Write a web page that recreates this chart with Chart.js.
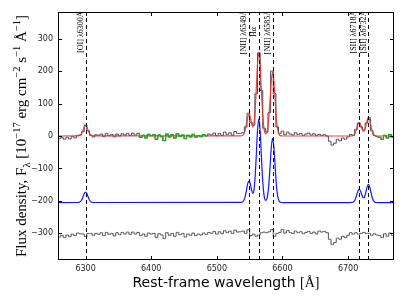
<!DOCTYPE html>
<html><head><meta charset="utf-8">
<script src="https://cdn.jsdelivr.net/npm/chart.js@4/dist/chart.umd.min.js"></script>
<style>html,body{margin:0;padding:0;background:#fff;}#wrap{width:403px;height:302px;}</style>
</head><body><div id="wrap"><canvas id="c" width="403" height="302"></canvas></div>
<script>
// Observed spectrum sampled on a regular wavelength grid (Å)
const WAVE_START = 6256, WAVE_STEP = 4;
const OBS_FLUX = [
  -6,-8,-5,-10,-4,-9,-2,-6,2,3,        // 6256-6292
  14,34,16,2,-3,4,2,6,-2,8,            // 6296-6332
  1,5,-3,6,0,7,3,8,2,9,                // 6336-6372
  3,8,-4,2,-6,5,1,4,-10,3,             // 6376-6412
  -2,-14,6,-3,4,-6,7,-1,3,-8,          // 6416-6452
  2,-3,5,-4,1,-2,4,0,6,3,              // 6456-6492
  9,1,8,2,12,5,10,3,14,8,              // 6496-6532
  8,10,28,70,42,34,130,256,140,24,     // 6536-6572
  12,72,200,130,28,8,15,4,12,6,        // 6576-6612
  3,10,5,8,2,6,9,3,7,1,                // 6616-6652
  5,2,4,0,-16,-28,-22,-10,-15,-6,      // 6656-6692
  -10,-3,5,2,20,40,28,18,40,56,        // 6696-6732
  16,2,-2,-4,-10,2,-6,4,-3,3           // 6736-6772
];
// Residuals (shown offset, as in the figure)
const RESID_FLUX = [
  -309,-311,-306,-313,-305,-310,-302,-307,-299,-301,
  -302,-310,-300,-301,-306,-300,-303,-298,-307,-297,
  -303,-300,-308,-298,-304,-297,-302,-296,-303,-296,
  -302,-297,-307,-302,-309,-299,-302,-300,-313,-301,
  -305,-316,-298,-306,-300,-309,-297,-304,-300,-311,
  -302,-306,-299,-307,-302,-305,-299,-303,-297,-300,
  -294,-302,-295,-301,-292,-298,-293,-300,-290,-296,
  -295,-293,-300,-289,-307,-302,-309,-305,-298,-296,
  -298,-295,-288,-309,-300,-297,-288,-299,-291,-297,
  -300,-293,-298,-295,-301,-297,-294,-300,-296,-302,
  -293,-296,-294,-298,-318,-334,-328,-315,-318,-309,
  -313,-306,-298,-302,-298,-302,-300,-297,-300,-300,
  -306,-301,-305,-307,-313,-301,-309,-299,-306,-300
];
// Best-fit model
const MODEL_WAVE = [
  6256,6288,6290,6292,6294,6296,6298,6300,6302,6304,6306,6308,6310,6312,
  6537,6539,6541,6543,6545,6547,6549,6551,6553,6555,6556.5,6558,6560,6562,6564,6566,6568,6570,6572,6574,6575.5,
  6577,6579,6581,6583,6585,6587,6589,6591,6593,6595,6597,6599,6601,
  6703,6705,6707,6709,6711,6713,6715,6717,6719,6721,6723,6724,6725,6727,6729,6731,6733,6735,6737,6739,6741,6743,6745,6772
];
const MODEL_FLUX = [
  0,0.1,0.7,2.7,8.0,17.2,27.4,32,27.4,17.2,8.0,2.7,0.7,0.1,
  0.3,1.4,5.6,16.7,36.1,57.4,67,57.8,38.5,28.1,37.0,67.1,139.7,221.1,258,221.1,139.1,64.2,22.0,7.3,7.7,
  17.0,49.3,106.7,169.7,198,169.7,106.7,49.3,16.6,4.2,0.8,0.1,0,
  0,0.2,0.9,3.4,10.2,22.1,35.1,41,35.3,23.3,14.9,14.7,17.3,31.1,48.2,56,48,30.2,13.9,4.7,1.2,0.2,0,0
];
// Individual line components (shown offset, as in the figure)
const COMP_FLUX = [
  -205,-204.9,-204.3,-202.3,-197,-187.8,-177.6,-173,-177.6,-187.8,-197,-202.3,-204.3,-204.9,
  -204.7,-203.6,-199.4,-188.3,-168.9,-147.6,-138,-147.2,-166.5,-176.9,-168,-137.9,-65.3,16.1,53,16.1,-65.9,-140.8,-183,-197.7,-197.3,
  -188,-155.7,-98.3,-35.3,-7,-35.3,-98.3,-155.7,-188.4,-200.8,-204.2,-204.9,-205,
  -205,-204.8,-204.1,-201.6,-194.8,-182.9,-169.9,-164,-169.7,-181.7,-190.1,-190.3,-187.7,-173.9,-156.8,-149,-157,-174.8,-191.1,-200.3,-203.8,-204.8,-205,-205
];
// Wavelength ranges masked in the fit (drawn green)
const MASK_RANGES = [[6378, 6486], [6744, 6772]];
// Emission lines
const LINE_WAVE  = [6300, 6549, 6564, 6585, 6717, 6731];
const LINE_LABEL = ['[OI] λ6300Å', '[NII] λ6549Å', 'Hα', '[NII] λ6585Å', '[SII] λ6718Å', '[SII] λ6732Å'];
const X_TICKS = [6300, 6400, 6500, 6600, 6700];
const Y_TICKS = [-300, -200, -100, 0, 100, 200, 300];

const obsPts = OBS_FLUX.map((v, i) => ({x: WAVE_START + i * WAVE_STEP, y: v}));
const resPts = RESID_FLUX.map((v, i) => ({x: WAVE_START + i * WAVE_STEP, y: v}));
const modPts = MODEL_WAVE.map((w, i) => ({x: w, y: MODEL_FLUX[i]}));
const cmpPts = MODEL_WAVE.map((w, i) => ({x: w, y: COMP_FLUX[i]}));
const maskPts = [];
MASK_RANGES.forEach((r, k) => {
  if (k > 0) maskPts.push({x: (MASK_RANGES[k - 1][1] + r[0]) / 2, y: null});
  obsPts.forEach(p => { if (p.x >= r[0] && p.x <= r[1]) maskPts.push(p); });
});

const decor = {
  id: 'decor',
  afterDatasetsDraw(chart) {
    const {ctx, chartArea: a, scales: {x, y}} = chart;
    ctx.save();
    ctx.beginPath(); ctx.rect(a.left, a.top, a.right - a.left, a.bottom - a.top); ctx.clip();
    ctx.strokeStyle = '#000'; ctx.lineWidth = 1; ctx.setLineDash([4, 3]);
    LINE_WAVE.forEach(w => {
      const px = Math.round(x.getPixelForValue(w)) + 0.5;
      ctx.beginPath(); ctx.moveTo(px, a.bottom); ctx.lineTo(px, a.top); ctx.stroke();
    });
    ctx.setLineDash([]);
    ctx.fillStyle = '#000';
    ctx.font = '8px "Liberation Serif"';
    ctx.textAlign = 'center'; ctx.textBaseline = 'bottom';
    const yc = y.getPixelForValue(320);
    LINE_WAVE.forEach((w, i) => {
      const px = x.getPixelForValue(w);
      ctx.save(); ctx.translate(px - 1, yc); ctx.rotate(-Math.PI / 2);
      ctx.fillText(LINE_LABEL[i], 0, 0); ctx.restore();
    });
    ctx.restore();
  },
  afterDraw(chart) {
    const {ctx, chartArea: a, scales: {x, y}} = chart;
    ctx.save();
    ctx.strokeStyle = '#000'; ctx.lineWidth = 1;
    ctx.strokeRect(a.left + 0.5, a.top + 0.5, a.right - a.left - 1, a.bottom - a.top - 1);
    const L = 4;
    ctx.beginPath();
    X_TICKS.forEach(v => {
      const px = Math.round(x.getPixelForValue(v)) + 0.5;
      ctx.moveTo(px, a.bottom); ctx.lineTo(px, a.bottom - L);
      ctx.moveTo(px, a.top); ctx.lineTo(px, a.top + L);
    });
    Y_TICKS.forEach(v => {
      const py = Math.round(y.getPixelForValue(v)) + 0.5;
      ctx.moveTo(a.left, py); ctx.lineTo(a.left + L, py);
      ctx.moveTo(a.right, py); ctx.lineTo(a.right - L, py);
    });
    ctx.stroke();
    // x title
    ctx.fillStyle = '#000';
    ctx.textBaseline = 'alphabetic'; ctx.textAlign = 'left';
    const f1 = '14px "DejaVu Sans"', f2 = '14px "Liberation Serif"';
    const t1 = 'Rest-frame wavelength ', t2 = '[Å]';
    ctx.font = f1; const w1 = ctx.measureText(t1).width;
    ctx.font = f2; const w2 = ctx.measureText(t2).width;
    let sx = (a.left + a.right) / 2 - (w1 + w2) / 2;
    ctx.font = f1; ctx.fillText(t1, sx, 287);
    ctx.font = f2; ctx.fillText(t2, sx + w1, 287);
    // y title (rotated, with super/subscripts)
    const FS = 15, fam = '"Liberation Serif"';
    const runs = [
      ['Flux density, F', 0], ['λ', -1], [' [10', 0], ['−17', 1], [' erg cm', 0], ['−2', 1],
      [' s', 0], ['−1', 1], [' Å', 0], ['−1', 1], [']', 0]
    ];
    let tot = 0;
    const ws = runs.map(r => {
      ctx.font = (r[1] ? FS * 0.7 : FS) + 'px ' + fam;
      const w = ctx.measureText(r[0]).width; tot += w; return w;
    });
    ctx.translate(26, (a.top + a.bottom) / 2);
    ctx.rotate(-Math.PI / 2);
    let cx = -tot / 2;
    runs.forEach((r, i) => {
      ctx.font = (r[1] ? FS * 0.7 : FS) + 'px ' + fam;
      const dy = r[1] === 1 ? -FS * 0.4 : (r[1] === -1 ? FS * 0.25 : 0);
      ctx.fillText(r[0], cx, dy);
      cx += ws[i];
    });
    ctx.restore();
  }
};

new Chart(document.getElementById('c'), {
  type: 'line',
  data: {
    datasets: [
      {label: 'masked', data: maskPts, stepped: 'middle', borderColor: '#1eaa1e', borderWidth: 1.2,
       pointRadius: 0, spanGaps: false, order: -1},
      {label: 'model', data: modPts, borderColor: 'rgba(232,48,48,0.9)', borderWidth: 1.2,
       pointRadius: 0, cubicInterpolationMode: 'monotone', order: 0},
      {label: 'observed', data: obsPts, stepped: 'middle', borderColor: '#4a4a4a', borderWidth: 1,
       pointRadius: 0, order: 1},
      {label: 'components', data: cmpPts, borderColor: '#1515ff', borderWidth: 1.2,
       pointRadius: 0, cubicInterpolationMode: 'monotone', order: 2},
      {label: 'residual', data: resPts, stepped: 'middle', borderColor: '#555', borderWidth: 1,
       pointRadius: 0, order: 3}
    ]
  },
  options: {
    responsive: false, animation: false, devicePixelRatio: 1,
    layout: {padding: {top: 12, right: 9, left: 0, bottom: 0}},
    plugins: {legend: {display: false}, tooltip: {enabled: false}},
    scales: {
      x: {type: 'linear', min: 6258, max: 6770,
          afterBuildTicks: s => { s.ticks = X_TICKS.map(v => ({value: v})); },
          afterFit: s => { s.height = 42; },
          grid: {display: false, drawTicks: false}, border: {display: false},
          ticks: {padding: 4, autoSkip: false, maxRotation: 0, color: '#222',
                  font: {family: 'DejaVu Sans', size: 8}, callback: v => String(v)}},
      y: {type: 'linear', min: -382, max: 382,
          afterBuildTicks: s => { s.ticks = Y_TICKS.map(v => ({value: v})); },
          afterFit: s => { s.width = 58; },
          grid: {display: false, drawTicks: false}, border: {display: false},
          ticks: {padding: 5, autoSkip: false, color: '#222',
                  font: {family: 'DejaVu Sans', size: 8},
                  callback: v => v < 0 ? '\u2212' + Math.abs(v) : String(v)}}
    }
  },
  plugins: [decor]
});
</script></body></html>
